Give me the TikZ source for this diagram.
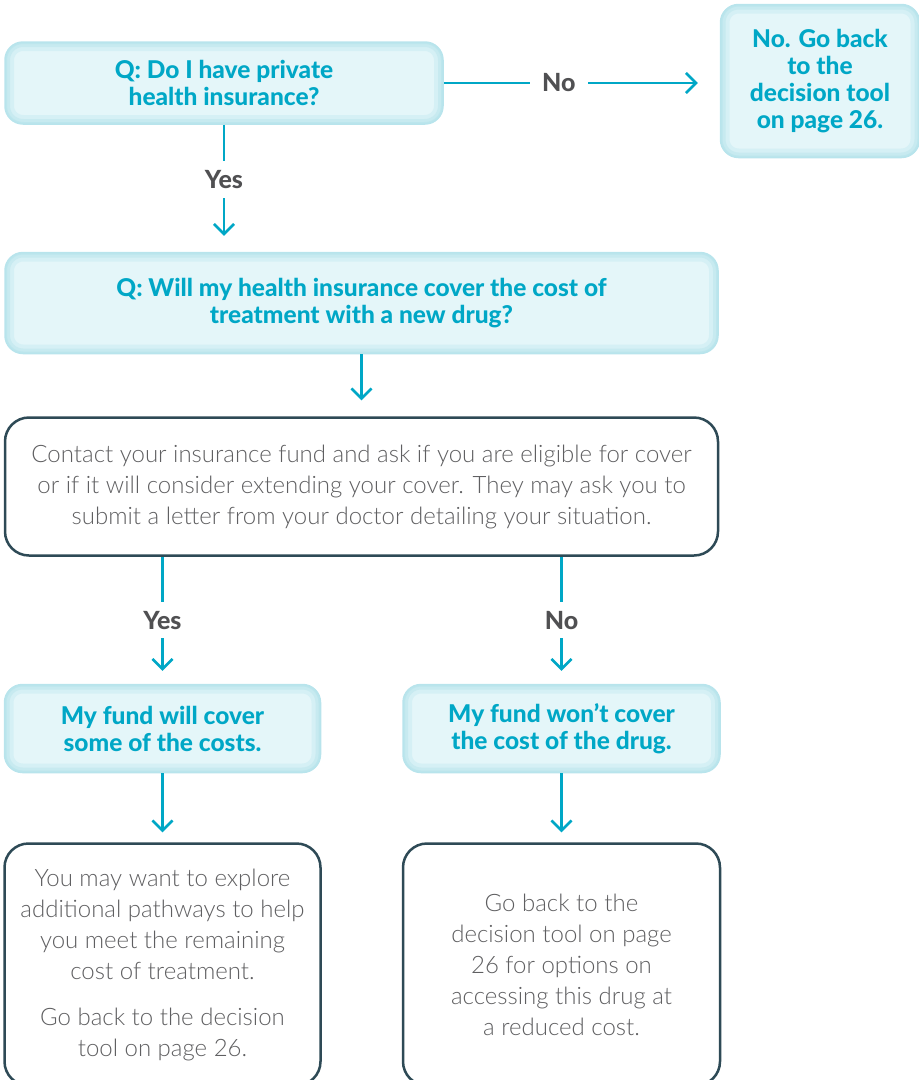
\documentclass[tikz,border=0pt]{standalone}
\usepackage{fontspec}
\setmainfont{Lato}
\newfontfamily\lightfont{Lato Light}
\newfontfamily\heavyfont{Lato Heavy}
\usetikzlibrary{positioning}
\usetikzlibrary{arrows.meta}
\definecolor{mteal}{RGB}{0,167,198}
\definecolor{mfill}{RGB}{228,246,249}
\definecolor{mglow}{RGB}{184,228,236}
\definecolor{mdark}{RGB}{46,74,86}
\definecolor{mgray}{RGB}{95,95,97}
\definecolor{mlabel}{RGB}{80,80,82}

\begin{document}
\begin{tikzpicture}[question/.style={draw=mglow, line width=1.5pt, fill=mfill, rounded corners=18pt, align=center, inner sep=0pt,
        text=mteal, font=\heavyfont\fontsize{24.5}{27}\selectfont,
        path picture={
            \draw[mglow!35!mfill, line width=18pt, rounded corners=18pt] (path picture bounding box.south west) rectangle (path picture bounding box.north east);
            \draw[mglow!65!mfill, line width=10pt, rounded corners=18pt] (path picture bounding box.south west) rectangle (path picture bounding box.north east);
            \draw[mglow!90!mfill, line width=4pt, rounded corners=18pt] (path picture bounding box.south west) rectangle (path picture bounding box.north east);
        }},
    info/.style={draw=mdark, line width=2.5pt, fill=white, rounded corners=24pt, align=center, inner sep=0pt,
        text=mgray, font=\lightfont\fontsize{24}{31}\selectfont},
    arrow/.style={-{Straight Barb[length=10pt,width=20pt]}, line width=2.5pt, color=mteal, shorten >=14pt},
    answer/.style={fill=white, text=mlabel, font=\heavyfont\fontsize{25}{25}\selectfont, inner xsep=12pt, inner ysep=9pt},
]

    \useasboundingbox (0,0) rectangle (919pt,-1080pt);

    \node[question, minimum width=438pt, minimum height=82pt] (q1) at (224pt,-83pt) {Q: Do I have private\\health insurance?};
    \node[question, minimum width=199pt, minimum height=153pt, right=276pt of q1, yshift=2pt] (back) {No. Go back\\to the\\decision tool\\on page 26.};

    \node[question, minimum width=713pt, minimum height=101pt, below=127pt of q1.south west, anchor=north west] (q2) {Q: Will my health insurance cover the cost of\\treatment with a new drug?};
    \node[info, minimum width=713pt, minimum height=138pt, below=62pt of q2] (contact) {Contact your insurance fund and ask if you are eligible for cover\\or if it will consider extending your cover. They may ask you to\\submit a letter from your doctor detailing your situation.};

    \node[question, minimum width=316pt, minimum height=88pt, below=127pt of contact.south west, anchor=north west] (cover) {My fund will cover\\some of the costs.};
    \node[question, minimum width=317pt, minimum height=88pt, right=81pt of cover] (nocover) {My fund won’t cover\\the cost of the drug.};

    \node[info, minimum width=316pt, minimum height=242pt, below=69pt of cover] (explore) {You may want to explore\\additional pathways to help\\you meet the remaining\\cost of treatment.\\[15pt]Go back to the decision\\tool on page 26.};
    \node[info, minimum width=317pt, minimum height=242pt, below=69pt of nocover] (goback) {Go back to the\\decision tool on page\\26 for options on\\accessing this drug at\\a reduced cost.};

    \draw[arrow, shorten >=22pt] (q1.east) -- (q1.east -| back.west) node[answer, pos=0.417] {No};
    \draw[arrow, shorten >=16pt] (q1.south) -- (q1.south |- q2.north) node[answer, pos=0.43] {Yes};
    \draw[arrow, shorten >=16pt] (q2) -- (contact);

    \draw[arrow, shorten >=13pt] (contact.south -| cover.north) -- (cover.north) node[answer, pos=0.5] {Yes};
    \draw[arrow, shorten >=13pt] (contact.south -| nocover.north) -- (nocover.north) node[answer, pos=0.5] {No};

    \draw[arrow, shorten >=10pt] (cover) -- (explore);
    \draw[arrow, shorten >=10pt] (nocover) -- (goback);

\end{tikzpicture}
\end{document}
